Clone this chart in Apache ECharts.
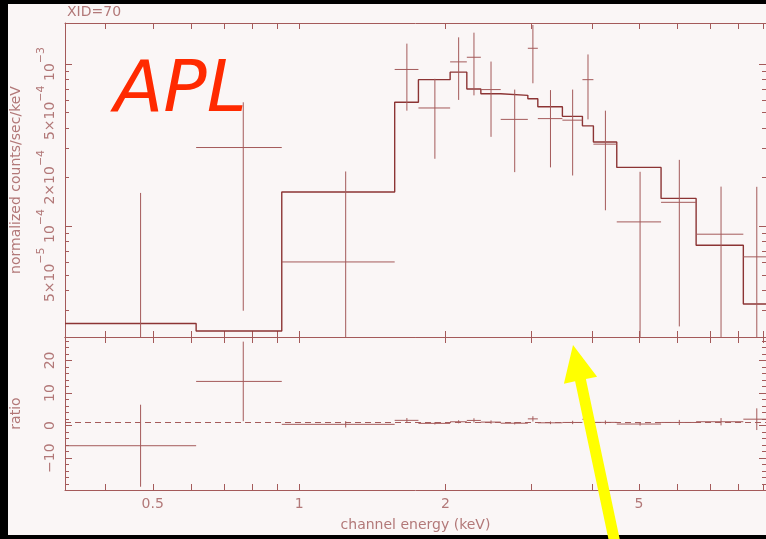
<!DOCTYPE html>
<html>
<head>
<meta charset="utf-8">
<script src="https://cdn.jsdelivr.net/npm/echarts@6/dist/echarts.min.js"></script>
<style>
  html, body { margin: 0; padding: 0; background: #000; }
  #chart { width: 766px; height: 539px; }
</style>
</head>
<body>
<div id="chart"></div>
<script>
// Spectrum bins (keV): lower and upper channel-group edges
const binLo = [0.330, 0.614, 0.921, 1.572, 1.759, 2.044, 2.212, 2.364, 2.597, 2.953, 3.096, 3.478, 3.824, 4.028, 4.499, 5.549, 6.551, 8.192];
const binHi = [0.614, 0.921, 1.572, 1.759, 2.044, 2.212, 2.364, 2.597, 2.953, 3.096, 3.478, 3.824, 4.028, 4.499, 5.549, 6.551, 8.192, 9.270];
// Observed normalized counts/sec/keV and 1-sigma errors
const counts = [-1.55e-4, 3.05e-4, 6.0e-5, 9.25e-4, 5.35e-4, 1.03e-3, 1.10e-3, 6.95e-4, 4.55e-4, 1.25e-3, 4.6e-4, 4.5e-4, 8.0e-4, 3.2e-4, 1.06e-4, 1.40e-4, 8.9e-5, 6.45e-5];
const countErr = [3.15e-4, 2.75e-4, 1.57e-4, 4.1e-4, 2.75e-4, 4.3e-4, 4.6e-4, 3.4e-4, 2.4e-4, 4.9e-4, 2.3e-4, 2.45e-4, 3.45e-4, 1.95e-4, 1.1e-4, 1.16e-4, 8.6e-5, 1.1e-4];
// Folded model per bin
const model = [2.50e-5, 2.25e-5, 1.62e-4, 5.80e-4, 8.0e-4, 8.9e-4, 7.0e-4, 6.55e-4, 6.4e-4, 6.1e-4, 5.45e-4, 4.75e-4, 4.15e-4, 3.3e-4, 2.3e-4, 1.48e-4, 7.6e-5, 3.3e-5];

// Axis ranges and tick positions
const energyRange = [0.33, 9.12];
const energyTicks = [0.4, 0.5, 0.6, 0.7, 0.8, 0.9, 1, 2, 3, 4, 5, 6, 7, 8, 9];
const energyLabels = [0.5, 1, 2, 5];
const fluxRange = [2.065e-5, 1.79e-3];
const fluxMajor = [1e-4, 1e-3];
const fluxMinor = [3e-5, 4e-5, 5e-5, 6e-5, 7e-5, 8e-5, 9e-5, 2e-4, 3e-4, 4e-4, 5e-4, 6e-4, 7e-4, 8e-4, 9e-4];
const fluxLabels = [5e-5, 1e-4, 2e-4, 5e-4, 1e-3];
const ratioRange = [-19.8, 27.2];
const ratioMajor = [-10, 0, 10, 20];
const ratioMinor = [-18, -16, -14, -12, -8, -6, -4, -2, 2, 4, 6, 8, 12, 14, 16, 18, 22, 24, 26];

const LINE = '#a45a5a';
const MODEL = '#8c3434';
const TEXT = '#b27878';
const FONT = 'DejaVu Sans';

// "m×10^e" with a raised exponent
function fluxLabel(v) {
  const e = Math.floor(Math.log10(v) + 1e-9);
  const m = Math.round(v / Math.pow(10, e));
  return '{n|' + (m === 1 ? '' : m + '×') + '10}{s|−' + Math.abs(e) + '}';
}

const baseAxis = {
  splitLine: { show: false },
  minorTick: { show: false },
  axisLine: { show: true, onZero: false, lineStyle: { color: LINE, width: 1 } },
  axisTick: { show: true, inside: true, lineStyle: { color: LINE, width: 1 } },
  axisLabel: { show: false },
  axisPointer: { show: false },
  silent: true
};

function axis(extra) {
  const a = JSON.parse(JSON.stringify(baseAxis));
  for (const k in extra) {
    if (typeof extra[k] === 'object' && !Array.isArray(extra[k]) && a[k]) {
      a[k] = Object.assign(a[k], extra[k]);
    } else {
      a[k] = extra[k];
    }
  }
  return a;
}

function energyAxis(gridIndex, position, withLabels) {
  const a = axis({
    type: 'log', logBase: 10, gridIndex, position,
    min: energyRange[0], max: energyRange[1],
    axisTick: { customValues: energyTicks, length: 6 }
  });
  if (withLabels) {
    a.axisLabel = {
      show: true, customValues: energyLabels, margin: 7,
      color: TEXT, fontFamily: FONT, fontSize: 14,
      formatter: v => String(+v.toPrecision(3))
    };
    a.name = 'channel energy (keV)';
    a.nameLocation = 'middle';
    a.nameGap = 28;
    a.nameTextStyle = { color: TEXT, fontFamily: FONT, fontSize: 14 };
  }
  return a;
}

function fluxAxis(position, ticks, len, line, withLabels) {
  const a = axis({
    type: 'log', logBase: 10, gridIndex: 0, position,
    min: fluxRange[0], max: fluxRange[1],
    axisLine: { show: line },
    axisTick: { customValues: ticks, length: len }
  });
  if (withLabels) {
    a.axisLabel = {
      show: true, customValues: fluxLabels, rotate: 90, margin: 1,
      color: TEXT, fontFamily: FONT, formatter: fluxLabel,
      rich: {
        n: { color: TEXT, fontFamily: FONT, fontSize: 14, lineHeight: 28, verticalAlign: 'middle' },
        s: { color: TEXT, fontFamily: FONT, fontSize: 11, lineHeight: 12, verticalAlign: 'top' }
      }
    };
    a.name = 'normalized counts/sec/keV';
    a.nameLocation = 'middle';
    a.nameRotate = 90;
    a.nameGap = 42;
    a.nameTextStyle = { color: TEXT, fontFamily: FONT, fontSize: 14 };
  }
  return a;
}

function ratioAxis(position, ticks, len, line, withLabels) {
  const a = axis({
    type: 'value', gridIndex: 1, position,
    min: ratioRange[0], max: ratioRange[1],
    axisLine: { show: line },
    axisTick: { customValues: ticks, length: len }
  });
  if (withLabels) {
    a.axisLabel = {
      show: true, customValues: ratioMajor, rotate: 90, margin: 8,
      color: TEXT, fontFamily: FONT, fontSize: 14,
      formatter: v => (v < 0 ? '−' + Math.abs(v) : String(v))
    };
    a.name = 'ratio';
    a.nameLocation = 'middle';
    a.nameRotate = 90;
    a.nameGap = 42;
    a.nameTextStyle = { color: TEXT, fontFamily: FONT, fontSize: 14 };
  }
  return a;
}

// Rows for the error-bar crosses: [lo, hi, centre, value, error]
const fluxRows = binLo.map((lo, i) => [lo, binHi[i], (lo + binHi[i]) / 2, counts[i], countErr[i]]);
const ratioRows = binLo.map((lo, i) => [lo, binHi[i], (lo + binHi[i]) / 2, counts[i] / model[i], countErr[i] / model[i]]);

// Folded model drawn as a histogram
const modelSteps = [];
binLo.forEach((lo, i) => { modelSteps.push([lo, model[i]], [binHi[i], model[i]]); });

function crossRenderer(logY) {
  return function (params, api) {
    const lo = api.value(0), hi = api.value(1), c = api.value(2);
    const v = api.value(3), e = api.value(4);
    const floor = 1e-9;
    const children = [];
    const top = v + e;
    let bot = v - e;
    if (logY && bot <= 0) bot = floor;
    if (!logY || top > 0) {
      const p1 = api.coord([c, top]);
      const p2 = api.coord([c, bot]);
      children.push({ type: 'line', shape: { x1: p1[0], y1: p1[1], x2: p2[0], y2: p2[1] },
        style: { stroke: LINE, lineWidth: 1 } });
    }
    if (!logY || v > 0) {
      const h1 = api.coord([lo, v]);
      const h2 = api.coord([hi, v]);
      children.push({ type: 'line', shape: { x1: h1[0], y1: h1[1], x2: h2[0], y2: h2[1] },
        style: { stroke: LINE, lineWidth: 1 } });
    }
    return { type: 'group', children };
  };
}

const chart = echarts.init(document.getElementById('chart'), null, { renderer: 'canvas' });

chart.setOption({
  animation: false,
  backgroundColor: '#faf6f6',
  grid: [
    { left: 65, right: 0, top: 23, height: 314 },
    { left: 65, right: 0, top: 337, height: 153 }
  ],
  xAxis: [
    energyAxis(0, 'bottom', false),
    energyAxis(0, 'top', false),
    energyAxis(1, 'bottom', true),
    energyAxis(1, 'top', false)
  ],
  yAxis: [
    fluxAxis('left', fluxMajor, 7, true, true),
    fluxAxis('left', fluxMinor, 4, false, false),
    fluxAxis('right', fluxMajor, 7, true, false),
    fluxAxis('right', fluxMinor, 4, false, false),
    ratioAxis('left', ratioMajor, 7, true, true),
    ratioAxis('left', ratioMinor, 4, false, false),
    ratioAxis('right', ratioMajor, 7, true, false),
    ratioAxis('right', ratioMinor, 4, false, false)
  ],
  series: [
    {
      type: 'line', xAxisIndex: 0, yAxisIndex: 0,
      data: modelSteps, showSymbol: false, symbol: 'none', clip: true,
      lineStyle: { color: MODEL, width: 1.4 }, silent: true, z: 3
    },
    {
      type: 'custom', xAxisIndex: 0, yAxisIndex: 0, clip: true,
      data: fluxRows, renderItem: crossRenderer(true), silent: true, z: 4
    },
    {
      type: 'custom', xAxisIndex: 2, yAxisIndex: 4, clip: true,
      data: ratioRows, renderItem: crossRenderer(false), silent: true, z: 4,
      markLine: {
        silent: true, symbol: 'none', label: { show: false },
        lineStyle: { color: LINE, type: [6, 4], width: 1 },
        data: [{ yAxis: 1 }]
      }
    }
  ],
  graphic: [
    { type: 'rect', shape: { x: 0, y: 0, width: 766, height: 4 }, style: { fill: '#000' }, z: 50 },
    { type: 'rect', shape: { x: 0, y: 0, width: 8, height: 539 }, style: { fill: '#000' }, z: 50 },
    { type: 'rect', shape: { x: 0, y: 535, width: 766, height: 4 }, style: { fill: '#000' }, z: 50 },
    { type: 'text', x: 67, y: 12, style: { text: 'XID=70', fill: TEXT, font: '14px "DejaVu Sans"', verticalAlign: 'middle' }, z: 50 },
    { type: 'text', x: 114, y: 92, style: { text: 'APL', fill: '#ff2a00',
      font: 'italic 72px "DejaVu Sans"', verticalAlign: 'middle' }, z: 60 },
    { type: 'polygon', z: 70, shape: { points: [
      [573, 345], [597.1, 376.7], [585.9, 379.1], [619.8, 539.5],
      [609.0, 541.7], [575.1, 381.3], [563.9, 383.7]
    ] }, style: { fill: '#ffff00' } }
  ]
});
</script>
</body>
</html>
